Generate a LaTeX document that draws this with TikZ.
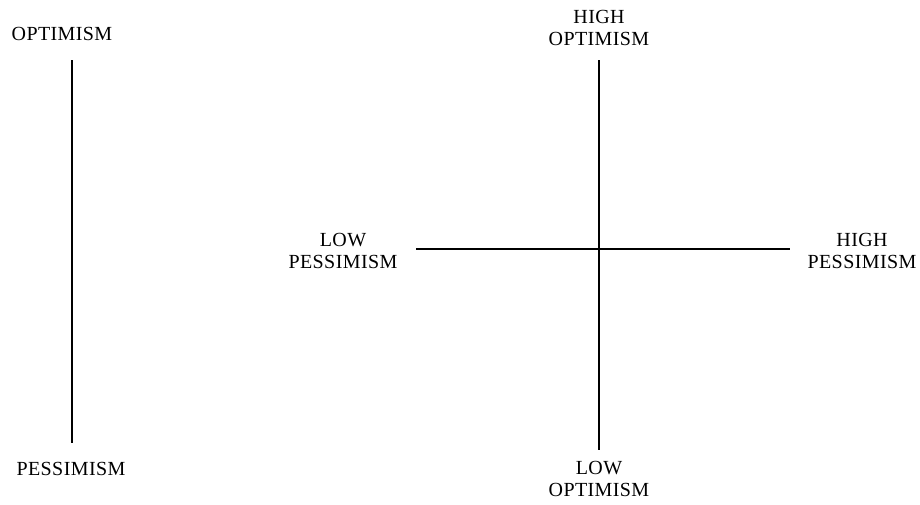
\documentclass[tikz,border=0pt]{standalone}
\usepackage{fontspec}
\setmainfont{Liberation Serif}[LetterSpace=2]
\begin{document}
\begin{tikzpicture}[x=1pt,y=-1pt,
  lbl/.style={font=\fontsize{20}{22}\selectfont, align=center, inner sep=0pt},
  axis/.style={line width=1.8pt}]
\useasboundingbox (0,0) rectangle (920,504);
% left scale
\node[lbl] (opt) at (62,34) {OPTIMISM};
\node[lbl] (pes) at (71,469) {PESSIMISM};
\coordinate (lt) at (72,60);
\coordinate (lb) at (72,443);
\draw[axis] (lt) -- (lb);
% right cross
\node[lbl] (hopt) at (599,28) {HIGH\\OPTIMISM};
\node[lbl] (lopt) at (599,479) {LOW\\OPTIMISM};
\node[lbl] (lpes) at (343,251) {LOW\\PESSIMISM};
\node[lbl] (hpes) at (862,251) {HIGH\\PESSIMISM};
\coordinate (vt) at (599,60);
\coordinate (vb) at (599,450);
\coordinate (hl) at (416,249);
\coordinate (hr) at (790,249);
\draw[axis] (vt) -- (vb);
\draw[axis] (hl) -- (hr);
\end{tikzpicture}
\end{document}
